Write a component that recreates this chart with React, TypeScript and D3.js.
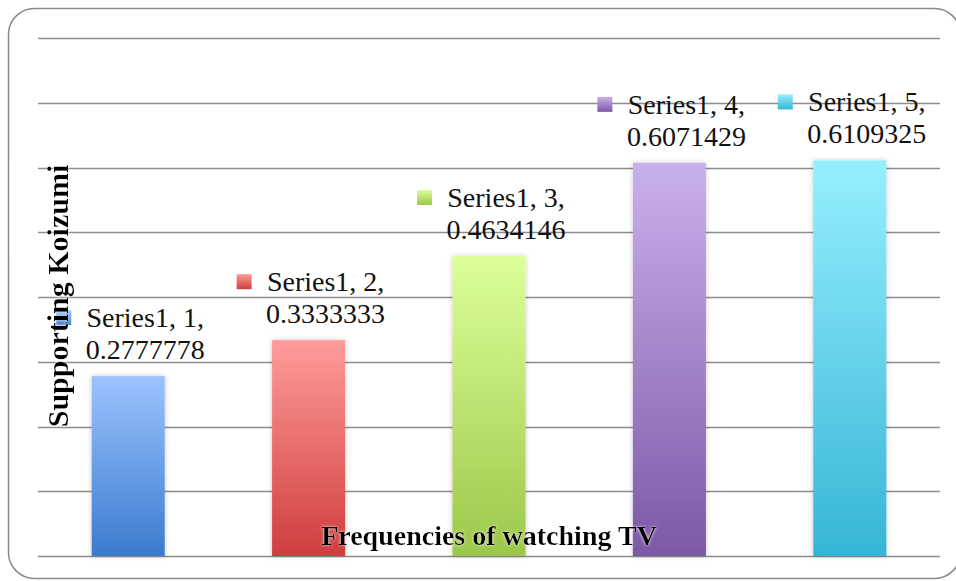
import * as d3 from "d3";

const categories = ["1", "2", "3", "4", "5"];
const values = [0.2777778, 0.3333333, 0.4634146, 0.6071429, 0.6109325];
const valueLabels = ["0.2777778", "0.3333333", "0.4634146", "0.6071429", "0.6109325"];
const seriesName = "Series1";
const gridTicks = [0, 0.1, 0.2, 0.3, 0.4, 0.5, 0.6, 0.7, 0.8];
const topColors = ["#9cc3ff", "#ff9c9a", "#dcff9a", "#c9b1eb", "#96effe"];
const bottomColors = ["#3b7bcd", "#cf3e3d", "#9dc74a", "#7c58a6", "#36b5d6"];
const xTitle = "Frequencies of watching TV";
const yTitle = "Supporting Koizumi";

const width = 956;
const height = 581;
const margin = { top: 38, right: 16, bottom: 25, left: 38 };

export default function App() {
  const x = d3
    .scaleBand<string>()
    .domain(categories)
    .range([margin.left, width - margin.right])
    .paddingInner(0.595)
    .paddingOuter(0.2975);
  const y = d3
    .scaleLinear()
    .domain([0, 0.8])
    .range([height - margin.bottom, margin.top]);

  const font = "'Liberation Serif', 'Times New Roman', serif";

  return (
    <svg
      width={width}
      height={height}
      viewBox={`0 0 ${width} ${height}`}
      style={{ position: "absolute", left: 0, top: 0, background: "#fff" }}
    >
      <defs>
        {categories.map((c, i) => (
          <linearGradient key={c} id={`grad-${i}`} x1="0" y1="0" x2="0" y2="1">
            <stop offset="0%" stopColor={topColors[i]} />
            <stop offset="100%" stopColor={bottomColors[i]} />
          </linearGradient>
        ))}
        <filter id="shadow" x="-20%" y="-5%" width="140%" height="110%">
          <feDropShadow dx="0" dy="0" stdDeviation="2.5" floodColor="#000" floodOpacity="0.22" />
        </filter>
        <filter id="glow" x="-5%" y="-20%" width="110%" height="140%">
          <feDropShadow dx="0" dy="0" stdDeviation="1.5" floodColor="#fff" floodOpacity="0.9" />
        </filter>
      </defs>

      <rect
        x={8.5}
        y={8.5}
        width={952}
        height={570}
        rx={26}
        ry={26}
        fill="none"
        stroke="#8a8a8a"
        strokeWidth={1.5}
      />

      {/* gridlines */}
      <g>
        {gridTicks.map((t) => (
          <line
            key={t}
            x1={margin.left}
            x2={width - margin.right}
            y1={Math.round(y(t)) + 0.5}
            y2={Math.round(y(t)) + 0.5}
            stroke="#8c8c8c"
            strokeWidth={1.6}
          />
        ))}
      </g>

      {/* bars */}
      <g>
        {values.map((v, i) => (
          <rect
            key={i}
            x={x(categories[i])}
            y={y(v)}
            width={x.bandwidth()}
            height={y(0) - y(v)}
            fill={`url(#grad-${i})`}
            filter="url(#shadow)"
          />
        ))}
      </g>

      {/* data labels */}
      <g fontFamily={font} fontSize={28} fill="#111">
        {values.map((v, i) => {
          const cx = (x(categories[i]) ?? 0) + x.bandwidth() / 2;
          const base = y(v) - 17;
          return (
            <g key={i}>
              <rect
                x={cx - 72}
                y={base - 32 - 17}
                width={15}
                height={15}
                fill={`url(#grad-${i})`}
              />
              <text x={cx + 17} y={base - 32} textAnchor="middle">
                {`${seriesName}, ${categories[i]},`}
              </text>
              <text x={cx + 17} y={base} textAnchor="middle">
                {valueLabels[i]}
              </text>
            </g>
          );
        })}
      </g>

      {/* axis titles */}
      <text
        x={(margin.left + width - margin.right) / 2}
        y={545}
        textAnchor="middle"
        fontFamily={font}
        fontWeight="bold"
        fontSize={28}
        fill="#000"
        filter="url(#glow)"
      >
        {xTitle}
      </text>
      <text
        transform={`translate(68, 296) rotate(-90)`}
        textAnchor="middle"
        fontFamily={font}
        fontWeight="bold"
        fontSize={30}
        fill="#000"
        filter="url(#glow)"
      >
        {yTitle}
      </text>
    </svg>
  );
}
